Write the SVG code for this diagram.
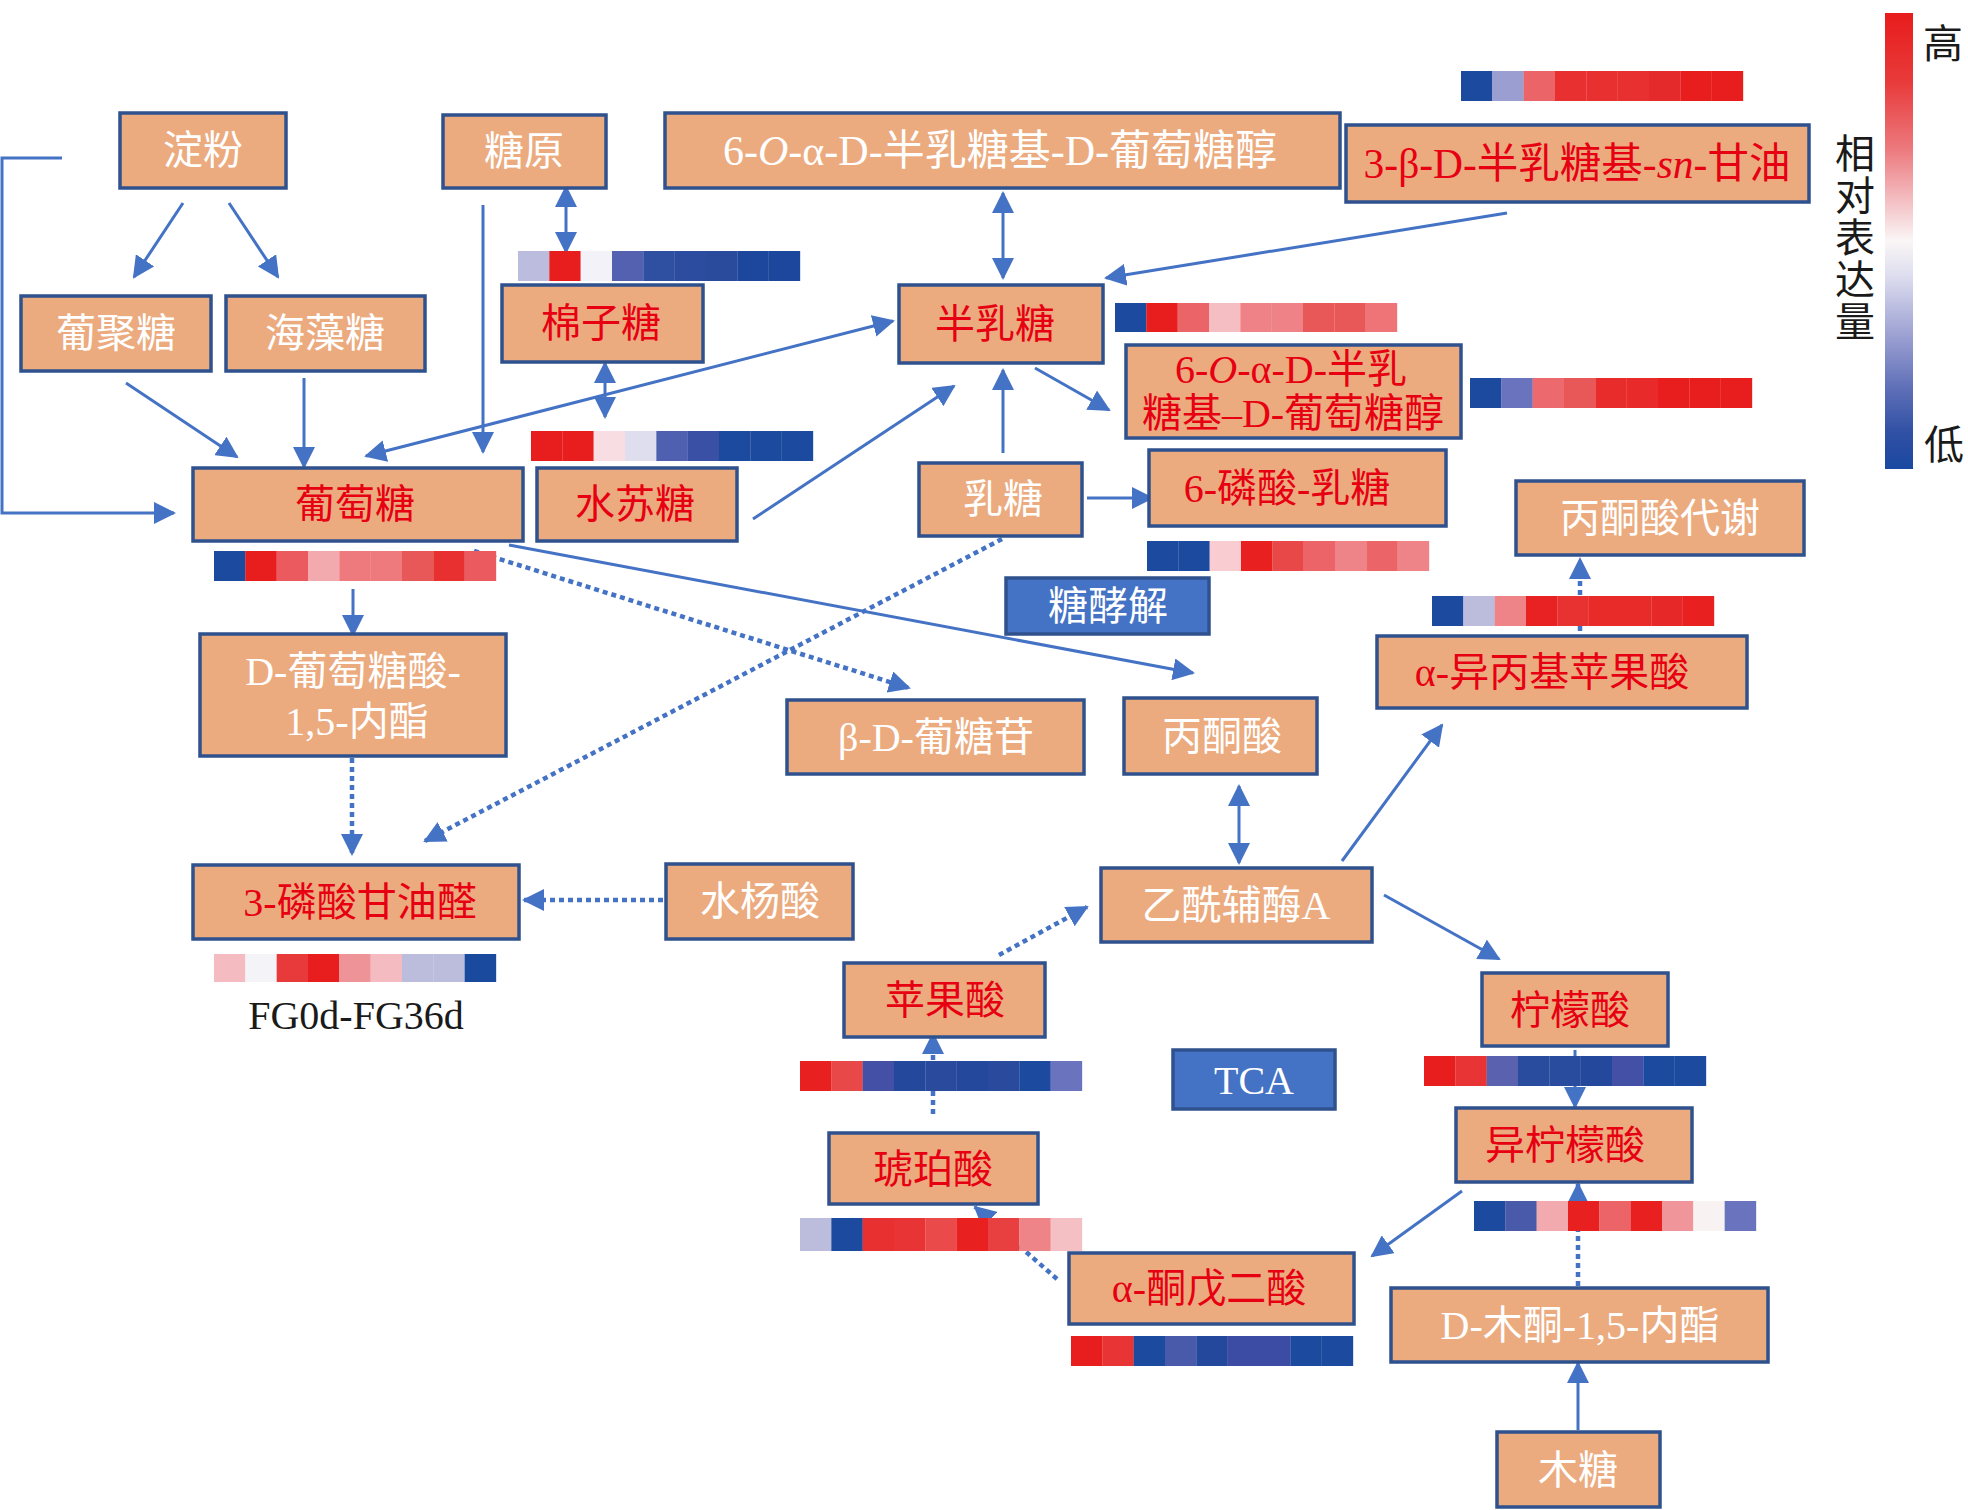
<svg xmlns="http://www.w3.org/2000/svg" width="1968" height="1510" viewBox="0 0 1968 1510">
<style>
.n{fill:#EBAB7F;stroke:#2F528F;stroke-width:3.5}
.b{fill:#4472C4;stroke:#2F528F;stroke-width:3.5}
.t{font-family:"Liberation Serif","Noto Sans CJK SC",serif;font-size:40px;text-anchor:middle}
.w{fill:#FFFFFF}
.r{fill:#E60012}
.k{fill:#1A1A1A}
.l{fill:none;stroke:#4472C4;stroke-width:3}
.d{fill:none;stroke:#4472C4;stroke-width:4.5;stroke-dasharray:5 4}
.a{marker-end:url(#ah)}
.aa{marker-end:url(#ah);marker-start:url(#ah)}
</style>
<defs>
<marker id="ah" viewBox="0 0 22 22" refX="20" refY="11" markerWidth="22" markerHeight="22" markerUnits="userSpaceOnUse" orient="auto-start-reverse">
<path d="M0,0 L22,11 L0,22 z" fill="#4472C4"/>
</marker>
<linearGradient id="cb" x1="0" y1="0" x2="0" y2="1">
<stop offset="0" stop-color="#E81C1C"/>
<stop offset="0.15" stop-color="#E83A3A"/>
<stop offset="0.3" stop-color="#EC7A7E"/>
<stop offset="0.42" stop-color="#F4C4C8"/>
<stop offset="0.5" stop-color="#FAF6F6"/>
<stop offset="0.58" stop-color="#DCDCEE"/>
<stop offset="0.7" stop-color="#A0A4D4"/>
<stop offset="0.82" stop-color="#6070B8"/>
<stop offset="0.92" stop-color="#3050A4"/>
<stop offset="1" stop-color="#1A48A0"/>
</linearGradient>
</defs>
<rect width="1968" height="1510" fill="#FFFFFF"/>

<g id="connectors">
<path class="l a" d="M62,158 H2 V513 H174"/>
<line class="l a" x1="183" y1="203" x2="134" y2="277"/>
<line class="l a" x1="229" y1="203" x2="278" y2="277"/>
<line class="l a" x1="126" y1="383" x2="237" y2="457"/>
<line class="l a" x1="304" y1="378" x2="304" y2="467"/>
<line class="l a" x1="483" y1="205" x2="483" y2="452"/>
<line class="l aa" x1="566" y1="187" x2="566" y2="252"/>
<line class="l aa" x1="605" y1="363" x2="605" y2="417"/>
<line class="l aa" x1="366" y1="456" x2="893" y2="321"/>
<line class="l a" x1="753" y1="519" x2="954" y2="386"/>
<line class="l a" x1="1003" y1="453" x2="1003" y2="370"/>
<line class="l aa" x1="1003" y1="193" x2="1003" y2="278"/>
<line class="l a" x1="1507" y1="213" x2="1106" y2="278"/>
<line class="l a" x1="1035" y1="368" x2="1109" y2="410"/>
<line class="l a" x1="1087" y1="498" x2="1152" y2="498"/>
<line class="l a" x1="509" y1="545" x2="1193" y2="673"/>
<line class="d a" x1="474" y1="551" x2="909" y2="688"/>
<line class="d a" x1="1002" y1="539" x2="425" y2="841"/>
<line class="l a" x1="353" y1="589" x2="353" y2="635"/>
<line class="d a" x1="352" y1="758" x2="352" y2="854"/>
<line class="d a" x1="663" y1="900" x2="524" y2="900"/>
<line class="l aa" x1="1239" y1="786" x2="1239" y2="863"/>
<line class="l a" x1="1342" y1="861" x2="1442" y2="725"/>
<line class="l a" x1="1384" y1="895" x2="1499" y2="959"/>
<line class="d a" x1="999" y1="955" x2="1087" y2="907"/>
<line class="d a" x1="1580" y1="631" x2="1580" y2="559"/>
<line class="l a" x1="1575" y1="1050" x2="1575" y2="1107"/>
<line class="l a" x1="1462" y1="1191" x2="1372" y2="1256"/>
<line class="d a" x1="1578" y1="1286" x2="1578" y2="1184"/>
<line class="l a" x1="1578" y1="1430" x2="1578" y2="1363"/>
<line class="d a" x1="933" y1="1114" x2="933" y2="1034"/>
<line class="d a" x1="1057" y1="1279" x2="975" y2="1207"/>
</g>

<g id="heatmaps">
<g id="hm-tr" transform="translate(1461,71)">
<rect x="0" width="31.5" height="30" fill="#1C4A9E"/><rect x="31.33" width="31.5" height="30" fill="#9A9ED0"/><rect x="62.67" width="31.5" height="30" fill="#EA6468"/><rect x="94" width="31.5" height="30" fill="#E83030"/><rect x="125.33" width="31.5" height="30" fill="#E83030"/><rect x="156.67" width="31.5" height="30" fill="#E83030"/><rect x="188" width="31.5" height="30" fill="#E42A2A"/><rect x="219.33" width="31.5" height="30" fill="#E81E1E"/><rect x="250.67" width="31.5" height="30" fill="#E81E1E"/>
</g>
<g id="hm-mz" transform="translate(518,251)">
<rect x="0" width="31.5" height="30" fill="#BCBCDE"/><rect x="31.33" width="31.5" height="30" fill="#E81E1E"/><rect x="62.67" width="31.5" height="30" fill="#F2F2F8"/><rect x="94" width="31.5" height="30" fill="#5460B0"/><rect x="125.33" width="31.5" height="30" fill="#2F4FA0"/><rect x="156.67" width="31.5" height="30" fill="#2C4D9F"/><rect x="188" width="31.5" height="30" fill="#2A4A9C"/><rect x="219.33" width="31.5" height="30" fill="#1D479D"/><rect x="250.67" width="31.5" height="30" fill="#1D479D"/>
</g>
<g id="hm-sst" transform="translate(531,431)">
<rect x="0" width="31.5" height="30" fill="#E81E1E"/><rect x="31.33" width="31.5" height="30" fill="#E81E1E"/><rect x="62.67" width="31.5" height="30" fill="#F8DEE2"/><rect x="94" width="31.5" height="30" fill="#DEDEEE"/><rect x="125.33" width="31.5" height="30" fill="#5060B0"/><rect x="156.67" width="31.5" height="30" fill="#3A50A4"/><rect x="188" width="31.5" height="30" fill="#1C4A9E"/><rect x="219.33" width="31.5" height="30" fill="#1C4A9E"/><rect x="250.67" width="31.5" height="30" fill="#1C4A9E"/>
</g>
<g id="hm-gal" transform="translate(1115,303)">
<rect x="0" width="31.5" height="29" fill="#1C4A9E"/><rect x="31.33" width="31.5" height="29" fill="#E81E1E"/><rect x="62.67" width="31.5" height="29" fill="#EA6468"/><rect x="94" width="31.5" height="29" fill="#F5BEC2"/><rect x="125.33" width="31.5" height="29" fill="#EF8286"/><rect x="156.67" width="31.5" height="29" fill="#EF8286"/><rect x="188" width="31.5" height="29" fill="#E85858"/><rect x="219.33" width="31.5" height="29" fill="#E85858"/><rect x="250.67" width="31.5" height="29" fill="#EE7478"/>
</g>
<g id="hm-6oad" transform="translate(1470,378)">
<rect x="0" width="31.5" height="30" fill="#1C4A9E"/><rect x="31.33" width="31.5" height="30" fill="#6A74BE"/><rect x="62.67" width="31.5" height="30" fill="#EC6A6E"/><rect x="94" width="31.5" height="30" fill="#E85858"/><rect x="125.33" width="31.5" height="30" fill="#E82C2C"/><rect x="156.67" width="31.5" height="30" fill="#E82A2A"/><rect x="188" width="31.5" height="30" fill="#E81E1E"/><rect x="219.33" width="31.5" height="30" fill="#E81E1E"/><rect x="250.67" width="31.5" height="30" fill="#E81E1E"/>
</g>
<g id="hm-glc" transform="translate(214,551)">
<rect x="0" width="31.5" height="30" fill="#1C4A9E"/><rect x="31.33" width="31.5" height="30" fill="#E81E1E"/><rect x="62.67" width="31.5" height="30" fill="#EA5A5E"/><rect x="94" width="31.5" height="30" fill="#F2AAAE"/><rect x="125.33" width="31.5" height="30" fill="#EF7A7E"/><rect x="156.67" width="31.5" height="30" fill="#EF7A7E"/><rect x="188" width="31.5" height="30" fill="#E85858"/><rect x="219.33" width="31.5" height="30" fill="#E83030"/><rect x="250.67" width="31.5" height="30" fill="#EA5A5E"/>
</g>
<g id="hm-6pl" transform="translate(1147,541)">
<rect x="0" width="31.5" height="30" fill="#1C4A9E"/><rect x="31.33" width="31.5" height="30" fill="#1C4A9E"/><rect x="62.67" width="31.5" height="30" fill="#F8CCD0"/><rect x="94" width="31.5" height="30" fill="#E82020"/><rect x="125.33" width="31.5" height="30" fill="#E84848"/><rect x="156.67" width="31.5" height="30" fill="#EC6468"/><rect x="188" width="31.5" height="30" fill="#EE8488"/><rect x="219.33" width="31.5" height="30" fill="#EA6468"/><rect x="250.67" width="31.5" height="30" fill="#EE8488"/>
</g>
<g id="hm-aipm" transform="translate(1432,596)">
<rect x="0" width="31.5" height="30" fill="#1C4A9E"/><rect x="31.33" width="31.5" height="30" fill="#BCBCDC"/><rect x="62.67" width="31.5" height="30" fill="#EE8488"/><rect x="94" width="31.5" height="30" fill="#E82222"/><rect x="125.33" width="31.5" height="30" fill="#E83232"/><rect x="156.67" width="31.5" height="30" fill="#E82A28"/><rect x="188" width="31.5" height="30" fill="#E82A28"/><rect x="219.33" width="31.5" height="30" fill="#E62828"/><rect x="250.67" width="31.5" height="30" fill="#E82020"/>
</g>
<g id="hm-g3p" transform="translate(214,954)">
<rect x="0" width="31.5" height="28" fill="#F4BCC0"/><rect x="31.33" width="31.5" height="28" fill="#F3F3F8"/><rect x="62.67" width="31.5" height="28" fill="#E83A3A"/><rect x="94" width="31.5" height="28" fill="#E81E1E"/><rect x="125.33" width="31.5" height="28" fill="#EE9499"/><rect x="156.67" width="31.5" height="28" fill="#F4BCC0"/><rect x="188" width="31.5" height="28" fill="#BCBCDC"/><rect x="219.33" width="31.5" height="28" fill="#BCBCDC"/><rect x="250.67" width="31.5" height="28" fill="#1A4A9E"/>
</g>
<g id="hm-mal" transform="translate(800,1061)">
<rect x="0" width="31.5" height="30" fill="#E82020"/><rect x="31.33" width="31.5" height="30" fill="#E84848"/><rect x="62.67" width="31.5" height="30" fill="#4450A6"/><rect x="94" width="31.5" height="30" fill="#23489C"/><rect x="125.33" width="31.5" height="30" fill="#2A4A9E"/><rect x="156.67" width="31.5" height="30" fill="#23489C"/><rect x="188" width="31.5" height="30" fill="#2A4A9E"/><rect x="219.33" width="31.5" height="30" fill="#1C4A9E"/><rect x="250.67" width="31.5" height="30" fill="#6A74BE"/>
</g>
<g id="hm-cit" transform="translate(1424,1056)">
<rect x="0" width="31.5" height="30" fill="#E81E1E"/><rect x="31.33" width="31.5" height="30" fill="#E83434"/><rect x="62.67" width="31.5" height="30" fill="#5A62B0"/><rect x="94" width="31.5" height="30" fill="#2A4C9E"/><rect x="125.33" width="31.5" height="30" fill="#2A4C9E"/><rect x="156.67" width="31.5" height="30" fill="#23489C"/><rect x="188" width="31.5" height="30" fill="#4450A6"/><rect x="219.33" width="31.5" height="30" fill="#1C4A9E"/><rect x="250.67" width="31.5" height="30" fill="#1C4A9E"/>
</g>
<g id="hm-suc" transform="translate(800,1218)">
<rect x="0" width="31.5" height="33" fill="#BCBCDC"/><rect x="31.33" width="31.5" height="33" fill="#1C4A9E"/><rect x="62.67" width="31.5" height="33" fill="#E83030"/><rect x="94" width="31.5" height="33" fill="#E83434"/><rect x="125.33" width="31.5" height="33" fill="#EA4A4A"/><rect x="156.67" width="31.5" height="33" fill="#E82020"/><rect x="188" width="31.5" height="33" fill="#E84040"/><rect x="219.33" width="31.5" height="33" fill="#EF8488"/><rect x="250.67" width="31.5" height="33" fill="#F5C0C4"/>
</g>
<g id="hm-iso" transform="translate(1474,1201)">
<rect x="0" width="31.5" height="30" fill="#1C4A9E"/><rect x="31.33" width="31.5" height="30" fill="#4A5AAA"/><rect x="62.67" width="31.5" height="30" fill="#F2AAAE"/><rect x="94" width="31.5" height="30" fill="#E82020"/><rect x="125.33" width="31.5" height="30" fill="#EC6468"/><rect x="156.67" width="31.5" height="30" fill="#E82020"/><rect x="188" width="31.5" height="30" fill="#F0959A"/><rect x="219.33" width="31.5" height="30" fill="#F8F2F2"/><rect x="250.67" width="31.5" height="30" fill="#6A74BE"/>
</g>
<g id="hm-akg" transform="translate(1071,1336)">
<rect x="0" width="31.5" height="30" fill="#E81E1E"/><rect x="31.33" width="31.5" height="30" fill="#E83434"/><rect x="62.67" width="31.5" height="30" fill="#1C4A9E"/><rect x="94" width="31.5" height="30" fill="#4A5AAA"/><rect x="125.33" width="31.5" height="30" fill="#23489C"/><rect x="156.67" width="31.5" height="30" fill="#3C4CA4"/><rect x="188" width="31.5" height="30" fill="#3C4CA4"/><rect x="219.33" width="31.5" height="30" fill="#1C4A9E"/><rect x="250.67" width="31.5" height="30" fill="#1C4A9E"/>
</g>
</g>

<g id="n-dianfen"><rect class="n" x="120" y="113" width="166" height="75"/><text class="t w" x="203" y="164">淀粉</text></g>
<g id="n-tangyuan"><rect class="n" x="443" y="115" width="163" height="73"/><text class="t w" x="524" y="165">糖原</text></g>
<g id="n-6o-top"><rect class="n" x="665" y="113" width="675" height="75"/><text class="t w" x="1000" y="165" style="font-size:42px">6-<tspan font-style="italic">O</tspan>-α-D-半乳糖基-D-葡萄糖醇</text></g>
<g id="n-3b"><rect class="n" x="1346" y="125" width="463" height="77"/><text class="t r" x="1577" y="178" style="font-size:41.5px">3-β-D-半乳糖基-<tspan font-style="italic">sn</tspan>-甘油</text></g>
<g id="n-jujutang"><rect class="n" x="21" y="296" width="190" height="75"/><text class="t w" x="116" y="347">葡聚糖</text></g>
<g id="n-haizaotang"><rect class="n" x="226" y="296" width="199" height="75"/><text class="t w" x="325" y="347">海藻糖</text></g>
<g id="n-mianzitang"><rect class="n" x="502" y="285" width="201" height="77"/><text class="t r" x="601" y="337">棉子糖</text></g>
<g id="n-banrutang"><rect class="n" x="899" y="285" width="204" height="78"/><text class="t r" x="995" y="338">半乳糖</text></g>
<g id="n-6o-2"><rect class="n" x="1126" y="345" width="335" height="93"/><text class="t r" x="1291" y="383">6-<tspan font-style="italic">O</tspan>-α-D-半乳</text><text class="t r" x="1293" y="427">糖基–D-葡萄糖醇</text></g>
<g id="n-putaotang"><rect class="n" x="193" y="468" width="330" height="73"/><text class="t r" x="355" y="518">葡萄糖</text></g>
<g id="n-shusutang"><rect class="n" x="537" y="468" width="200" height="73"/><text class="t r" x="635" y="518">水苏糖</text></g>
<g id="n-rutang"><rect class="n" x="919" y="463" width="163" height="73"/><text class="t w" x="1003" y="513">乳糖</text></g>
<g id="n-6pl"><rect class="n" x="1149" y="450" width="297" height="76"/><text class="t r" x="1287" y="502">6-磷酸-乳糖</text></g>
<g id="n-bingtongsuan-daixie"><rect class="n" x="1516" y="481" width="288" height="74"/><text class="t w" x="1660" y="532">丙酮酸代谢</text></g>
<g id="n-tangjiaojie"><rect class="b" x="1006" y="578" width="203" height="56"/><text class="t w" x="1108" y="620">糖酵解</text></g>
<g id="n-gluconolactone"><rect class="n" x="200" y="634" width="306" height="122"/><text class="t w" x="353" y="685">D-葡萄糖酸-</text><text class="t w" x="357" y="735">1,5-内酯</text></g>
<g id="n-glucoside"><rect class="n" x="787" y="700" width="297" height="74"/><text class="t w" x="936" y="751">β-D-葡糖苷</text></g>
<g id="n-bingtongsuan"><rect class="n" x="1124" y="698" width="193" height="76"/><text class="t w" x="1222" y="750">丙酮酸</text></g>
<g id="n-aipm"><rect class="n" x="1377" y="636" width="370" height="72"/><text class="t r" x="1552" y="686">α-异丙基苹果酸</text></g>
<g id="n-g3p"><rect class="n" x="193" y="865" width="326" height="74"/><text class="t r" x="360" y="916">3-磷酸甘油醛</text></g>
<g id="n-shuiyangsuan"><rect class="n" x="666" y="864" width="187" height="75"/><text class="t w" x="760" y="915">水杨酸</text></g>
<g id="n-acoa"><rect class="n" x="1101" y="868" width="271" height="74"/><text class="t w" x="1236" y="919">乙酰辅酶A</text></g>
<g id="n-pingguosuan"><rect class="n" x="844" y="963" width="201" height="74"/><text class="t r" x="945" y="1014">苹果酸</text></g>
<g id="n-ningmengsuan"><rect class="n" x="1482" y="973" width="186" height="73"/><text class="t r" x="1570" y="1024">柠檬酸</text></g>
<g id="n-tca"><rect class="b" x="1173" y="1050" width="162" height="59"/><text class="t w" x="1254" y="1094">TCA</text></g>
<g id="n-yiningmengsuan"><rect class="n" x="1456" y="1108" width="236" height="74"/><text class="t r" x="1565" y="1159">异柠檬酸</text></g>
<g id="n-hupo"><rect class="n" x="829" y="1133" width="209" height="71"/><text class="t r" x="933" y="1183">琥珀酸</text></g>
<g id="n-akg"><rect class="n" x="1069" y="1253" width="285" height="71"/><text class="t r" x="1209" y="1302">α-酮戊二酸</text></g>
<g id="n-xylulactone"><rect class="n" x="1391" y="1288" width="377" height="74"/><text class="t w" x="1580" y="1339">D-木酮-1,5-内酯</text></g>
<g id="n-mutang"><rect class="n" x="1497" y="1432" width="163" height="75"/><text class="t w" x="1578" y="1484">木糖</text></g>

<g id="labels">
<text class="t k" x="356" y="1029">FG0d-FG36d</text>
</g>

<g id="legend">
<rect x="1885" y="13" width="28" height="456" fill="url(#cb)"/>
<text class="t k" x="1943" y="58">高</text>
<text class="t k" x="1944" y="459">低</text>
<text class="t k" x="1855" y="168">相</text>
<text class="t k" x="1855" y="210">对</text>
<text class="t k" x="1855" y="252">表</text>
<text class="t k" x="1855" y="294">达</text>
<text class="t k" x="1855" y="336">量</text>
</g>
</svg>
